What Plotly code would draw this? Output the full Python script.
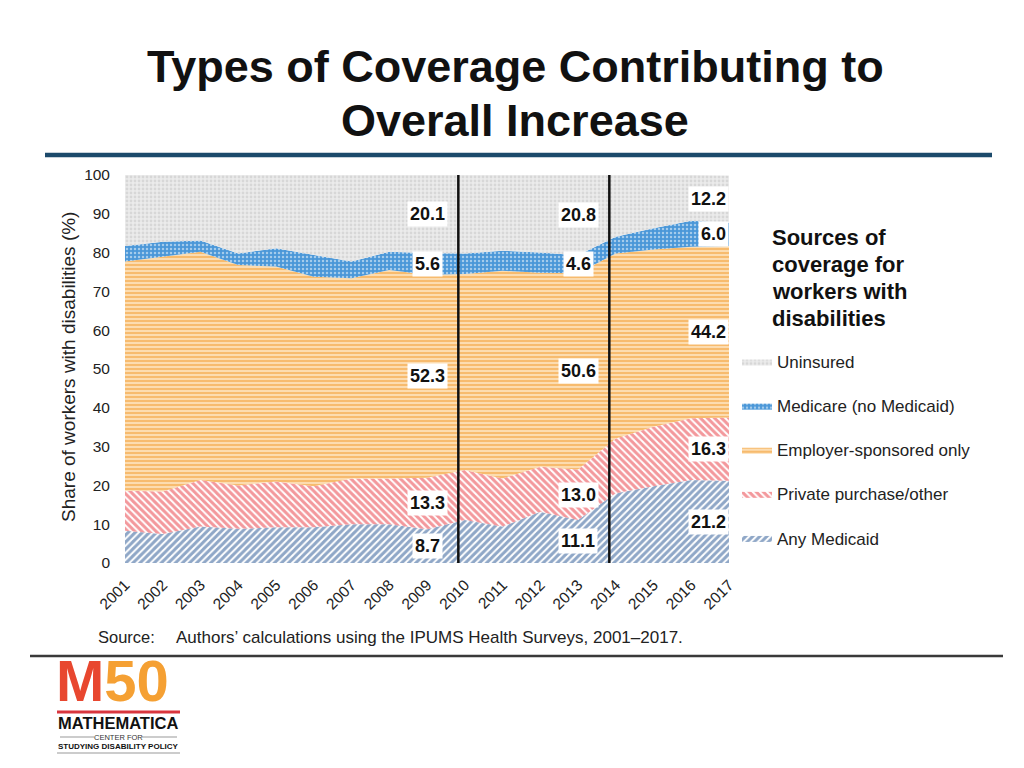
import plotly.graph_objects as go

years = list(range(2001, 2018))
any_medicaid = [8.3, 7.5, 9.4, 8.8, 9.2, 9.2, 10.0, 10.0, 8.7, 11.1, 9.4, 13.2, 11.1, 18.0, 19.8, 21.4, 21.2]
private_other = [10.3, 10.9, 12.0, 11.2, 11.8, 10.6, 11.8, 11.8, 13.3, 12.9, 12.4, 11.6, 13.0, 14.1, 15.3, 15.9, 16.3]
employer_only = [59.1, 60.5, 58.8, 56.8, 55.4, 54.0, 51.6, 53.7, 52.3, 50.5, 53.5, 50.0, 50.6, 47.7, 45.7, 44.2, 44.2]
medicare = [4.0, 3.9, 2.9, 3.0, 4.7, 5.6, 4.3, 4.7, 5.6, 5.3, 5.2, 5.2, 4.6, 4.3, 5.5, 6.7, 6.0]
uninsured = [18.3, 17.2, 16.9, 20.2, 18.9, 20.6, 22.3, 19.8, 20.1, 20.2, 19.5, 20.0, 20.8, 15.9, 13.7, 11.8, 12.2]

series_names = ["Any Medicaid", "Private purchase/other", "Employer-sponsored only",
                "Medicare (no Medicaid)", "Uninsured"]
series_values = [any_medicaid, private_other, employer_only, medicare, uninsured]
label_years = [2009, 2013, 2017]
policy_years = [2010, 2014]
legend_title_lines = ["Sources of", "coverage for", "workers with", "disabilities"]

FONT = "Arial, Liberation Sans, sans-serif"
patterns = [
    dict(shape="/", fgcolor="#1f4f8f", bgcolor="#ffffff", size=5, solidity=0.6),
    dict(shape="\\", fgcolor="#e8323a", bgcolor="#ffffff", size=5, solidity=0.6),
    dict(shape="-", fgcolor="#f29a2c", bgcolor="#fcdcb0", size=4, solidity=0.5),
    dict(shape=".", fgcolor="#ffffff", bgcolor="#4a97d8", size=4, solidity=0.3),
    dict(shape=".", fgcolor="#c4c4c4", bgcolor="#ebebeb", size=4, solidity=0.4),
]
fills = ["#1f4f8f", "#e8323a", "#f29a2c", "#4a97d8", "#e0e0e0"]

# reference-pixel helpers (plot area spans x 125..729, y 175..563 in screen pixels)
PX0, PX1, PY0, PY1 = 125, 729, 175, 563


def px(x):
    return (x - PX0) / (PX1 - PX0)


def py(y):
    return (PY1 - y) / (PY1 - PY0)


fig = go.Figure()
for i, (name, vals) in enumerate(zip(series_names, series_values)):
    fig.add_trace(go.Scatter(
        x=years, y=vals, name=name, mode="lines", stackgroup="one",
        line=dict(width=0, color=fills[i]), fillcolor=fills[i],
        fillpattern=patterns[i], legendgroup=name, legendrank=len(series_names) - i,
        hoverinfo="x+y+name",
    ))

# data labels at band midpoints
for yr in label_years:
    idx = years.index(yr)
    base = 0.0
    for vals in series_values:
        v = vals[idx]
        mid = base + v / 2
        base += v
        fig.add_annotation(
            x=yr, y=mid, xref="x", yref="y", text=f"<b>{v:.1f}</b>", showarrow=False,
            font=dict(family=FONT, size=18, color="#111"), bgcolor="#ffffff",
            borderpad=2, xanchor="right" if yr == years[-1] else "center",
        )

for p in policy_years:
    fig.add_shape(type="line", x0=p - 0.17, x1=p - 0.17, y0=0, y1=100,
                  xref="x", yref="y", line=dict(color="#111", width=2.5))


def px_annot(x, y, text, size, color="#111", xanchor="left", yanchor="middle", angle=0, bold=False,
             family=FONT):
    fig.add_annotation(
        x=px(x), y=py(y), xref="paper", yref="paper", text=(f"<b>{text}</b>" if bold else text),
        showarrow=False, xanchor=xanchor, yanchor=yanchor, textangle=angle, align="left",
        font=dict(family=family, size=size, color=color), borderpad=0,
    )


px_annot(515, 66, "Types of Coverage Contributing to", 45, xanchor="center", bold=True)
px_annot(515, 120, "Overall Increase", 45, xanchor="center", bold=True)
px_annot(68, 367, "Share of workers with disabilities (%)", 19, xanchor="center", angle=-90, color="#222")
px_annot(97, 637, "Source:", 16.5, color="#222")
px_annot(175, 637, "Authors’ calculations using the IPUMS Health Surveys, 2001–2017.", 17, color="#222")
for k, line in enumerate(legend_title_lines):
    px_annot(771, 237 + 27 * k, line, 22, bold=True, color="#111")

# logo
px_annot(55, 714, "<span style='color:#e8472f'>M</span><span style='color:#f5a033'>50</span>", 58,
         bold=True, yanchor="bottom", family="Liberation Sans Narrow, Arial Narrow, Arial, sans-serif")
px_annot(118, 723, "MATHEMATICA", 16.5, xanchor="center", bold=True, color="#111")
px_annot(118, 737, "CENTER FOR", 7.5, xanchor="center", color="#333")
px_annot(118, 746, "STUDYING DISABILITY POLICY", 8, xanchor="center", bold=True, color="#111")

shapes_px = [
    dict(x0=45, x1=992, y=155, color="#1c4a6b", width=4.5),
    dict(x0=30, x1=1003, y=656, color="#3a3a3a", width=2.5),
    dict(x0=57, x1=180, y=712, color="#d9363e", width=3),
    dict(x0=60, x1=94, y=737, color="#999", width=1),
    dict(x0=142, x1=177, y=737, color="#999", width=1),
    dict(x0=57, x1=180, y=753, color="#999", width=1),
]
for s in shapes_px:
    fig.add_shape(type="line", xref="paper", yref="paper",
                  x0=px(s["x0"]), x1=px(s["x1"]), y0=py(s["y"]), y1=py(s["y"]),
                  line=dict(color=s["color"], width=s["width"]))

OFF = 8  # page body margin
fig.update_layout(
    width=1024, height=768, autosize=False,
    margin=dict(l=PX0 - OFF, r=1024 - (PX1 - OFF), t=PY0 - OFF, b=768 - (PY1 - OFF)),
    paper_bgcolor="#ffffff", plot_bgcolor="#ffffff",
    font=dict(family=FONT, size=14, color="#222"),
    showlegend=True,
    legend=dict(x=px(737), xanchor="left", y=py(344), yanchor="top",
                traceorder="grouped", tracegroupgap=19,
                font=dict(family=FONT, size=17, color="#222"), bgcolor="rgba(0,0,0,0)"),
    xaxis=dict(range=[years[0], years[-1]], tickvals=years, ticktext=[str(y) for y in years],
               tickangle=-45, showgrid=False, zeroline=False, showline=False, ticklabelstandoff=9,
               tickfont=dict(family=FONT, size=15.5, color="#222"), fixedrange=True),
    yaxis=dict(range=[0, 100], tickvals=list(range(0, 101, 10)), showgrid=False, zeroline=False,
               showline=False, ticklabelstandoff=14,
               tickfont=dict(family=FONT, size=15.5, color="#222"), fixedrange=True),
)

fig.write_html("out.html")
